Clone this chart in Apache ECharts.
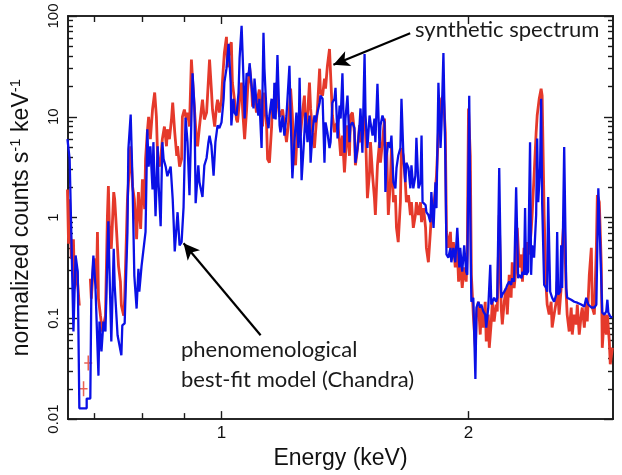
<!DOCTYPE html>
<html><head><meta charset="utf-8">
<script src="https://cdn.jsdelivr.net/npm/echarts@6/dist/echarts.min.js"></script>
<style>html,body{margin:0;padding:0;background:#fff}#c{width:622px;height:475px}</style>
</head><body><div id="c"></div>
<script>
// ---- tick values ----
const xMajorTicks = [1, 2];
const xMinorTicks = [0.7, 0.8, 0.9];
const yMajorTicks = [0.01, 0.1, 1, 10, 100];
const yMinorTicks = [0.02,0.03,0.04,0.05,0.06,0.07,0.08,0.09,0.2,0.3,0.4,0.5,0.6,0.7,0.8,0.9,2,3,4,5,6,7,8,9,20,30,40,50,60,70,80,90];

// ---- synthetic spectrum (red), [energy keV, counts/s/keV] ----
const synthLow = [[0.649,1.9],[0.651,0.55],[0.653,1.52],[0.656,0.39],[0.660,0.61],[0.662,0.197],[0.666,0.31],[0.670,0.157],[0.671,0.134]];
const synthPoints = [[0.679,0.020],[0.688,0.036]];
const synthMain = [[0.692,0.247],[0.694,0.157],[0.698,0.34],[0.702,0.39],[0.704,0.197],[0.706,0.72],[0.708,0.157],[0.712,0.106],[0.716,0.074],[0.718,0.085],[0.722,0.106],[0.726,1.03],[0.728,2.05],[0.730,0.82],[0.734,0.49],[0.739,1.79],[0.741,1.52],[0.745,0.72],[0.749,0.33],[0.753,0.231],[0.755,0.134],[0.760,0.106],[0.762,0.157],[0.766,0.72],[0.768,1.52],[0.775,5.1],[0.779,2.05],[0.783,1.52],[0.788,0.61],[0.792,1.79],[0.797,0.77],[0.801,2.4],[0.806,1.21],[0.808,3.8],[0.812,7.0],[0.815,10],[0.819,6.0],[0.824,11.8],[0.829,17.4],[0.833,10],[0.836,3.8],[0.840,3.2],[0.845,4.75],[0.847,6.0],[0.852,8.0],[0.857,5.1],[0.859,7.5],[0.864,6.0],[0.869,9.4],[0.872,13.8],[0.877,7.0],[0.882,4.1],[0.884,5.1],[0.889,3.2],[0.894,3.8],[0.896,10],[0.901,11.8],[0.906,9.4],[0.909,11],[0.914,8.0],[0.919,37],[0.922,23.4],[0.927,11.8],[0.932,6.0],[0.935,5.1],[0.940,8.0],[0.945,11.8],[0.948,14.8],[0.953,9.4],[0.959,11],[0.961,14.8],[0.967,37],[0.972,18.6],[0.975,11.8],[0.981,8.0],[0.986,12.6],[0.989,14.8],[0.994,11],[1.000,14.8],[1.003,23.4],[1.008,43],[1.014,62],[1.017,31],[1.023,49],[1.028,55],[1.031,21.8],[1.037,14.8],[1.043,9.4],[1.046,8.8],[1.052,14.8],[1.058,21.8],[1.061,11.8],[1.067,6.0],[1.073,11.8],[1.076,18.6],[1.082,31],[1.088,19.9],[1.091,12.6],[1.097,17.4],[1.103,11],[1.106,14.8],[1.112,18.6],[1.119,12.6],[1.122,8.0],[1.128,17.4],[1.135,8.0],[1.138,3.8],[1.144,3.5],[1.151,8.0],[1.154,14.8],[1.160,11.8],[1.167,21.8],[1.170,14.8],[1.177,10],[1.183,11],[1.187,11.8],[1.193,12.1],[1.200,5.6],[1.207,8.8],[1.214,19],[1.220,10.3],[1.224,4.9],[1.231,3.3],[1.238,8.2],[1.245,11],[1.248,6.5],[1.255,11],[1.262,16.2],[1.266,7.0],[1.273,10.3],[1.280,21.8],[1.284,12.1],[1.291,7.0],[1.298,4.9],[1.302,7.0],[1.309,12.1],[1.317,30],[1.320,17.4],[1.328,16.2],[1.335,23.9],[1.339,19],[1.346,32],[1.354,47],[1.358,27],[1.365,10.3],[1.373,7.0],[1.377,8.2],[1.385,8.8],[1.393,5.6],[1.397,4.1],[1.404,6.5],[1.412,2.8],[1.416,4.1],[1.424,8.2],[1.432,4.1],[1.436,10.3],[1.444,11],[1.452,7.0],[1.456,3.3],[1.465,4.9],[1.473,8.2],[1.477,5.6],[1.485,7.0],[1.494,11],[1.498,7.0],[1.506,1.56],[1.515,2.8],[1.519,5.6],[1.528,2.6],[1.536,1.56],[1.540,1.06],[1.549,3.3],[1.558,5.6],[1.562,3.5],[1.571,5.6],[1.580,9.6],[1.584,3.3],[1.589,5.6],[1.597,1.06],[1.606,2.24],[1.611,4.9],[1.620,1.42],[1.629,1.67],[1.634,0.79],[1.642,0.57],[1.652,1.42],[1.657,4.9],[1.666,4.1],[1.675,2.24],[1.680,1.42],[1.690,1.67],[1.699,1.06],[1.704,1.42],[1.713,0.79],[1.723,1.06],[1.728,1.42],[1.738,1.06],[1.748,1.42],[1.753,0.90],[1.763,1.24],[1.773,0.79],[1.777,0.50],[1.787,0.36],[1.797,0.72],[1.802,1.06],[1.813,1.24],[1.823,1.95],[1.828,2.6],[1.838,7.0],[1.849,8.2],[1.854,15.1],[1.864,16.2],[1.874,7.0],[1.880,0.72],[1.890,0.50],[1.901,0.72],[1.906,0.43],[1.917,0.57],[1.927,0.32],[1.938,0.50],[1.945,0.231],[1.954,0.36],[1.965,0.20],[1.976,0.32],[1.987,0.231],[1.993,0.43],[2.000,12.1],[2.010,4.1],[2.016,0.27],[2.027,0.109],[2.039,0.051],[2.045,0.109],[2.056,0.146],[2.067,0.069],[2.073,0.128],[2.085,0.081],[2.096,0.146],[2.102,0.059],[2.114,0.109],[2.120,0.051],[2.132,0.093],[2.138,0.146],[2.149,0.093],[2.161,0.137],[2.168,0.117],[2.180,1.06],[2.192,0.128],[2.199,0.087],[2.211,0.146],[2.223,0.20],[2.230,0.109],[2.242,0.27],[2.254,0.16],[2.261,0.36],[2.273,0.20],[2.286,0.32],[2.293,0.79],[2.306,0.32],[2.321,0.43],[2.327,0.231],[2.337,0.50],[2.351,0.27],[2.357,0.57],[2.371,0.43],[2.384,0.72],[2.391,1.06],[2.404,2.6],[2.418,7.0],[2.425,10.3],[2.439,15.1],[2.452,19],[2.459,16.2],[2.473,1.06],[2.487,0.20],[2.494,0.137],[2.508,0.109],[2.522,0.146],[2.529,0.081],[2.543,0.109],[2.558,0.146],[2.565,0.231],[2.579,0.109],[2.594,0.20],[2.601,0.50],[2.616,1.06],[2.631,0.172],[2.638,0.109],[2.653,0.074],[2.668,0.128],[2.676,0.069],[2.691,0.109],[2.706,0.087],[2.714,0.137],[2.729,0.069],[2.744,0.109],[2.752,0.128],[2.768,0.081],[2.783,0.146],[2.791,0.093],[2.807,0.27],[2.823,0.50],[2.831,0.128],[2.847,0.109],[2.863,0.50],[2.871,1.67],[2.887,1.42],[2.903,0.34],[2.911,0.051],[2.928,0.109],[2.944,0.069],[2.953,0.109],[2.969,0.059],[2.977,0.035],[2.995,0.051]];

// ---- phenomenological best-fit model (blue) ----
const modelSpectrum = [[0.649,6.0],[0.653,3.8],[0.656,0.72],[0.660,0.074],[0.664,0.42],[0.668,0.29],[0.670,0.037],[0.671,0.0128],[0.685,0.0128],[0.685,0.016],[0.692,0.016],[0.694,0.184],[0.698,0.42],[0.702,0.21],[0.708,0.027],[0.710,0.093],[0.714,0.047],[0.718,0.093],[0.720,0.093],[0.722,0.074],[0.726,0.42],[0.728,0.92],[0.730,0.33],[0.734,0.059],[0.739,0.49],[0.741,0.21],[0.747,0.068],[0.751,0.068],[0.755,0.043],[0.757,0.085],[0.762,0.089],[0.768,0.72],[0.770,4.75],[0.775,10.5],[0.779,2.24],[0.783,0.264],[0.788,0.125],[0.792,0.31],[0.794,0.184],[0.799,0.33],[0.803,0.33],[0.808,0.72],[0.812,7.5],[0.815,3.2],[0.819,5.1],[0.824,1.9],[0.826,5.6],[0.831,1.03],[0.836,5.1],[0.838,2.24],[0.843,0.82],[0.847,5.6],[0.850,3.8],[0.855,3.2],[0.859,2.57],[0.867,3.2],[0.872,1.52],[0.874,0.97],[0.877,0.46],[0.879,0.45],[0.884,1.13],[0.889,0.53],[0.894,0.57],[0.899,1.27],[0.904,9.8],[0.909,5.6],[0.914,1.67],[0.922,27],[0.927,12.1],[0.930,1.39],[0.937,3.3],[0.940,2.24],[0.948,1.6],[0.953,3.3],[0.959,3.9],[0.964,5.6],[0.967,6.5],[0.972,5.2],[0.978,2.6],[0.983,5.6],[0.989,8.2],[0.994,7.7],[1.000,8.8],[1.006,15.1],[1.008,21.8],[1.014,30],[1.020,53],[1.026,21.8],[1.028,8.2],[1.034,15.1],[1.037,11],[1.043,10.3],[1.049,17.4],[1.052,38],[1.058,80],[1.064,21.8],[1.067,9.6],[1.073,27],[1.079,25.5],[1.082,34],[1.088,20.4],[1.094,12.1],[1.097,23.9],[1.103,13.8],[1.109,10.3],[1.112,15.1],[1.119,4.9],[1.125,68],[1.128,30],[1.135,10.3],[1.141,7.7],[1.144,10.3],[1.151,15.1],[1.157,9.6],[1.160,21.8],[1.164,9.4],[1.170,41],[1.177,8.2],[1.180,7.0],[1.187,10.3],[1.193,6.5],[1.200,10.3],[1.210,32],[1.214,10.3],[1.220,2.45],[1.227,5.6],[1.234,11],[1.241,4.9],[1.245,24.4],[1.252,2.35],[1.259,4.9],[1.266,11],[1.273,5.6],[1.280,10.3],[1.284,3.5],[1.291,7.0],[1.298,10.3],[1.302,8.8],[1.309,11],[1.317,13.8],[1.320,16.2],[1.328,15.1],[1.335,3.5],[1.339,8.8],[1.346,7.0],[1.354,4.9],[1.358,5.6],[1.365,13.8],[1.373,15.1],[1.377,19.4],[1.385,6.1],[1.393,12.9],[1.397,9.6],[1.404,27],[1.412,4.4],[1.416,9.6],[1.424,16.2],[1.432,5.6],[1.436,8.2],[1.444,8.8],[1.452,7.7],[1.456,3.5],[1.465,4.9],[1.473,8.2],[1.477,12.1],[1.485,4.4],[1.494,42],[1.498,10.3],[1.506,4.9],[1.515,10.3],[1.519,8.8],[1.528,6.5],[1.536,9.6],[1.540,5.6],[1.549,21.3],[1.558,4.9],[1.562,8.2],[1.571,10.3],[1.580,8.8],[1.584,1.79],[1.589,4.1],[1.597,5.6],[1.606,4.9],[1.611,6.5],[1.620,2.24],[1.629,1.95],[1.634,3.1],[1.642,4.1],[1.652,4.9],[1.657,15.1],[1.666,4.1],[1.675,2.24],[1.680,3.5],[1.690,3.1],[1.699,1.95],[1.704,3.3],[1.713,1.95],[1.723,2.6],[1.728,6.2],[1.738,1.95],[1.748,2.24],[1.753,6.5],[1.758,1.42],[1.773,1.33],[1.777,1.13],[1.787,1.06],[1.797,0.90],[1.802,1.79],[1.813,0.79],[1.823,2.24],[1.828,1.24],[1.838,21.8],[1.849,4.9],[1.854,8.2],[1.864,43],[1.874,4.1],[1.880,0.43],[1.890,0.40],[1.901,0.50],[1.906,0.36],[1.917,0.50],[1.927,0.36],[1.938,0.79],[1.949,0.32],[1.954,0.50],[1.965,0.29],[1.976,0.53],[1.987,0.29],[1.993,0.27],[2.004,16.2],[2.010,1.06],[2.016,0.146],[2.027,0.16],[2.039,0.025],[2.045,0.128],[2.056,0.146],[2.067,0.128],[2.073,0.137],[2.085,0.117],[2.096,0.109],[2.102,0.081],[2.114,0.128],[2.126,0.34],[2.132,0.137],[2.149,0.16],[2.161,0.146],[2.168,0.16],[2.180,3.1],[2.192,0.16],[2.199,0.172],[2.211,0.184],[2.223,0.20],[2.230,0.215],[2.242,0.231],[2.254,0.215],[2.261,0.25],[2.273,0.231],[2.286,2.0],[2.299,0.25],[2.306,0.27],[2.321,0.25],[2.327,0.29],[2.337,0.27],[2.344,1.24],[2.351,0.27],[2.364,0.29],[2.377,5.6],[2.384,0.27],[2.391,0.53],[2.404,0.40],[2.418,1.06],[2.425,6.1],[2.432,1.42],[2.445,3.1],[2.452,15.1],[2.459,1.42],[2.473,0.215],[2.487,0.20],[2.494,0.184],[2.501,1.6],[2.515,0.184],[2.529,0.16],[2.543,0.146],[2.558,0.172],[2.565,0.72],[2.572,0.172],[2.587,0.184],[2.594,0.53],[2.601,0.20],[2.616,5.0],[2.631,0.20],[2.638,0.16],[2.668,0.153],[2.691,0.146],[2.714,0.143],[2.744,0.137],[2.768,0.131],[2.783,0.16],[2.799,0.137],[2.823,0.128],[2.847,0.128],[2.863,0.137],[2.879,1.95],[2.895,0.50],[2.911,0.114],[2.928,0.109],[2.944,0.117],[2.953,0.153],[2.961,0.114],[2.977,0.104],[2.995,0.102]];

// ---- annotation arrows (data coords: tail -> head) ----
const arrowSynthetic = [[1.698, 67.5], [1.369, 32.8]];
const arrowModel = [[1.116, 0.068], [0.899, 0.556]];

const RED = '#e5392b', BLUE = '#0a10e6', AX = '#1a1a1a';
const FONT = '"Liberation Sans", Arial, sans-serif';
const X_MIN = 0.65, X_MAX = 3.0, Y_MIN = 0.01, Y_MAX = 100;

function xAx(pos, ticks, len, opts) {
  return Object.assign({
    type: 'log', logBase: 10, min: X_MIN, max: X_MAX, position: pos, gridIndex: 0,
    axisLine: { show: true, onZero: false, lineStyle: { color: AX, width: 1.6 } },
    axisTick: { show: true, inside: true, length: len, customValues: ticks, lineStyle: { color: AX, width: 1.4 } },
    axisLabel: { show: false },
    splitLine: { show: false }, minorTick: { show: false }
  }, opts || {});
}
function yAx(pos, ticks, len, opts) {
  return Object.assign({
    type: 'log', logBase: 10, min: Y_MIN, max: Y_MAX, position: pos, gridIndex: 0,
    axisLine: { show: true, onZero: false, lineStyle: { color: AX, width: 1.6 } },
    axisTick: { show: true, inside: true, length: len, customValues: ticks, lineStyle: { color: AX, width: 1.4 } },
    axisLabel: { show: false },
    splitLine: { show: false }, minorTick: { show: false }
  }, opts || {});
}

const chart = echarts.init(document.getElementById('c'), null, { renderer: 'canvas' });
chart.setOption({
  animation: false,
  backgroundColor: '#fff',
  grid: { left: 68, right: 9, top: 16, bottom: 54, containLabel: false },
  xAxis: [
    xAx('bottom', xMajorTicks, 8, {
      axisLabel: { show: true, customValues: xMajorTicks, margin: 6, fontSize: 17, fontFamily: FONT, color: '#111', formatter: v => String(v) },
      name: 'Energy (keV)', nameLocation: 'middle', nameGap: 27,
      nameTextStyle: { fontSize: 23, fontFamily: FONT, color: '#111' }
    }),
    xAx('bottom', xMinorTicks, 6),
    xAx('top', xMajorTicks, 8),
    xAx('top', xMinorTicks, 6)
  ],
  yAxis: [
    yAx('left', yMajorTicks, 9, {
      axisLabel: { show: true, customValues: yMajorTicks, rotate: 90, margin: 7, fontSize: 15, fontFamily: FONT, color: '#111', formatter: v => String(v) },
      name: '{n|normalized counts s}{s|-1}{n| keV}{s|-1}', nameLocation: 'middle', nameGap: 32, nameRotate: 90,
      nameTextStyle: { fontSize: 23, fontFamily: FONT, color: '#111',
        rich: { n: { fontSize: 23, fontFamily: FONT, color: '#111', lineHeight: 28 },
                s: { fontSize: 15, fontFamily: FONT, color: '#111', lineHeight: 16, verticalAlign: 'top' } } }
    }),
    yAx('left', yMinorTicks, 5),
    yAx('right', yMajorTicks, 9),
    yAx('right', yMinorTicks, 5)
  ],
  series: [
    { type: 'line', data: synthLow, xAxisIndex: 0, yAxisIndex: 0, symbol: 'none', z: 2,
      lineStyle: { color: RED, width: 2.8 } },
    { type: 'line', data: synthMain, xAxisIndex: 0, yAxisIndex: 0, symbol: 'none', z: 2,
      lineStyle: { color: RED, width: 2.8 } },
    { type: 'scatter', data: synthPoints, xAxisIndex: 0, yAxisIndex: 0, z: 2,
      symbol: 'path://M3,0h1.4v6.3h3v1.4h-3v6.3h-1.4v-6.3h-3v-1.4h3z', symbolSize: [8, 15],
      itemStyle: { color: RED } },
    { type: 'line', data: modelSpectrum, xAxisIndex: 0, yAxisIndex: 0, symbol: 'none', z: 3,
      lineStyle: { color: BLUE, width: 2.3 },
      markLine: {
        silent: true, animation: false, symbol: ['none', 'arrow'], symbolSize: [12, 16],
        label: { show: false }, emphasis: { disabled: true },
        lineStyle: { color: '#000', width: 2.2, type: 'solid' }, itemStyle: { color: '#000' },
        data: [
          [{ coord: arrowSynthetic[0] }, { coord: arrowSynthetic[1] }],
          [{ coord: arrowModel[0] }, { coord: arrowModel[1] }]
        ]
      } }
  ],
  graphic: [
    { type: 'text', x: 415, y: 30, silent: true,
      style: { text: 'synthetic spectrum', fontSize: 22, fontFamily: 'Lato', fill: '#1a1a1a', align: 'left', verticalAlign: 'middle' } },
    { type: 'text', x: 181, y: 350, silent: true,
      style: { text: 'phenomenological', fontSize: 22, fontFamily: 'Lato', fill: '#1a1a1a', align: 'left', verticalAlign: 'middle' } },
    { type: 'text', x: 181, y: 380, silent: true,
      style: { text: 'best-fit model (Chandra)', fontSize: 22, fontFamily: 'Lato', fill: '#1a1a1a', align: 'left', verticalAlign: 'middle' } }
  ]
});
</script></body></html>
